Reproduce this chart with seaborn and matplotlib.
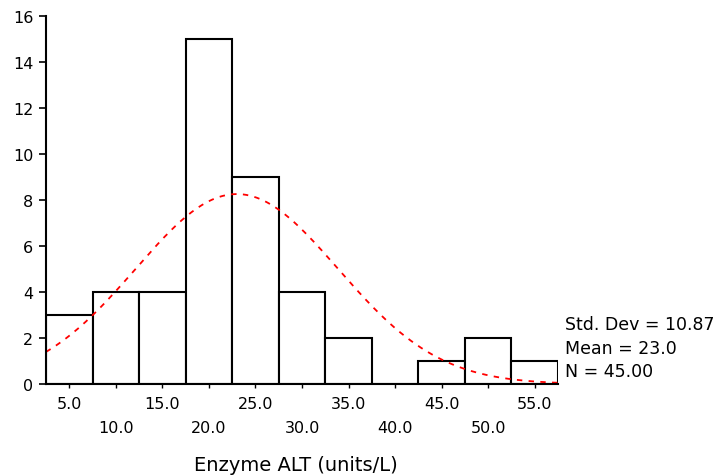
import numpy as np
import pandas as pd
import matplotlib
matplotlib.use("Agg")
import matplotlib.pyplot as plt
import seaborn as sns

# Data
bin_centers = [5, 10, 15, 20, 25, 30, 35, 40, 45, 50, 55]
counts = [3, 4, 4, 15, 9, 4, 2, 0, 1, 2, 1]
std_dev = 10.87
mean_val = 23.0
n_total = 45
bin_width = 5
x_label = "Enzyme ALT (units/L)"
y_ticks = [0, 2, 4, 6, 8, 10, 12, 14, 16]

sns.set_theme(style="white")
plt.rcParams['font.family'] = ['DejaVu Sans']
plt.rcParams['text.color'] = 'black'
plt.rcParams['xtick.color'] = 'black'
plt.rcParams['ytick.color'] = 'black'
plt.rcParams['axes.labelcolor'] = 'black'

fig = plt.figure(figsize=(7.19, 4.77), dpi=100)
ax = fig.add_axes([46/719, 1-385/477, (558-46)/719, (385-17)/477])

df = pd.DataFrame({"x": bin_centers, "w": counts})
lo = bin_centers[0] - bin_width/2
hi = bin_centers[-1] + bin_width/2
sns.histplot(data=df, x="x", weights="w", binwidth=bin_width, binrange=(lo, hi),
             color="white", edgecolor="black", linewidth=1.5, alpha=1, ax=ax)

# Normal curve from the stated mean and std. dev.
xs = np.linspace(lo, hi, 300)
ys = n_total * bin_width / (std_dev*np.sqrt(2*np.pi)) * np.exp(-0.5*((xs-mean_val)/std_dev)**2)
sns.lineplot(x=xs, y=ys, color="red", linewidth=1.3, linestyle=(0, (3, 3.5)), ax=ax)

ax.set_xlim(lo, hi)
ax.set_ylim(0, 16)
ax.set_yticks(y_ticks)
ax.set_yticklabels([str(v) for v in y_ticks], fontsize=11.5)

major = [c for i, c in enumerate(bin_centers) if i % 2 == 0]
minor = [c for i, c in enumerate(bin_centers) if i % 2 == 1]
ax.set_xticks(major)
ax.set_xticklabels([f"{v:.1f}" for v in major], fontsize=11.5)
ax.set_xticks(minor, minor=True)
ax.set_xticklabels([f"{v:.1f}" for v in minor], minor=True, fontsize=11.5)
ax.tick_params(axis='x', which='major', direction='out', length=3, width=1, pad=6, bottom=True)
ax.tick_params(axis='x', which='minor', direction='out', length=3, width=1, pad=23, bottom=True)
ax.tick_params(axis='y', direction='out', length=5, width=1.2, pad=4, left=True)

ax.set_xlabel(x_label, fontsize=14)
ax.xaxis.set_label_coords((295.5-46)/512, -(466-385)/368)
ax.xaxis.label.set_va('center')
ax.set_ylabel("")
for s in ['top', 'right']:
    ax.spines[s].set_visible(False)
for s in ['left', 'bottom']:
    ax.spines[s].set_color('black')
    ax.spines[s].set_linewidth(1.5)

fig.text(565/719, 1-325/477, f"Std. Dev = {std_dev:.2f}", fontsize=12.5, va='center', ha='left')
fig.text(565/719, 1-349/477, f"Mean = {mean_val:.1f}", fontsize=12.5, va='center', ha='left')
fig.text(565/719, 1-372/477, f"N = {n_total:.2f}", fontsize=12.5, va='center', ha='left')

fig.savefig("out.png", dpi=100)
